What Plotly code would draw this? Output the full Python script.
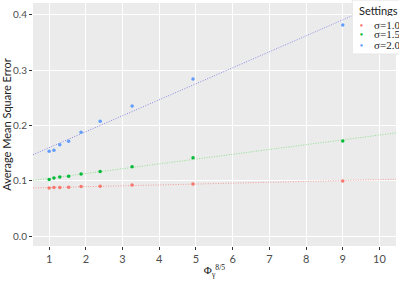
import numpy as np
import plotly.graph_objects as go

# ---- data ----
phi = [1.0, 1.13, 1.29, 1.53, 1.87, 2.39, 3.26, 4.92, 9.0]
series_names = ["σ=1.0", "σ=1.5", "σ=2.0"]
mse_s10 = [0.0870, 0.0877, 0.0877, 0.0884, 0.0895, 0.0903, 0.0926, 0.0944, 0.0998]
mse_s15 = [0.1022, 0.1052, 0.1070, 0.1083, 0.1125, 0.1166, 0.1256, 0.1419, 0.1720]
mse_s20 = [0.1534, 0.1552, 0.1653, 0.1715, 0.1877, 0.2076, 0.2352, 0.2840, 0.3820]
x_ticks = [1, 2, 3, 4, 5, 6, 7, 8, 9, 10]
y_ticks = [0.0, 0.1, 0.2, 0.3, 0.4]

point_colors = ["#F8766D", "#00BA38", "#619CFF"]
line_colors = ["#F2A09A", "#8FE08F", "#8A8AE8"]

x_range = [0.56, 10.45]
y_range = [-0.018, 0.4217]

fig = go.Figure()
for name, ys, pc, lc in zip(series_names, [mse_s10, mse_s15, mse_s20], point_colors, line_colors):
    slope, intercept = np.polyfit(phi, ys, 1)
    xl = np.array(x_range)
    fig.add_trace(go.Scatter(x=xl, y=slope * xl + intercept, mode="lines",
                             line=dict(color=lc, width=1, dash="1px,1.5px"),
                             showlegend=False, hoverinfo="skip"))
    fig.add_trace(go.Scatter(x=phi, y=ys, mode="markers", name=name,
                             marker=dict(color=pc, size=3.5), showlegend=False))

fig.update_layout(
    template="none",
    width=399, height=284,
    margin=dict(l=33, r=3, t=3, b=38),
    paper_bgcolor="white", plot_bgcolor="#EBEBEB",
    font=dict(family="Lato", color="#222222"),
    xaxis=dict(range=x_range, tickvals=x_ticks, showgrid=True, gridcolor="white", gridwidth=1,
               zeroline=False, showline=False, ticks="outside", ticklen=3, tickcolor="#333333",
               automargin=False,
               tickfont=dict(size=11, color="#4D4D4D"),
               title=dict(text="Φ<sub>γ</sub><sup>8/5</sup>", font=dict(size=11, color="#222222",
                          family="Liberation Serif"), standoff=2)),
    yaxis=dict(range=y_range, tickvals=y_ticks, tickformat=".1f", showgrid=True, gridcolor="white",
               gridwidth=1, zeroline=False, showline=False, ticks="outside", ticklen=3,
               tickcolor="#333333", automargin=False,
               tickfont=dict(size=10, color="#4D4D4D"),
               title=dict(text="Average Mean Square Error", font=dict(size=11, color="#222222"),
                          standoff=2)),
)

# ---- manual compact legend (ggplot style) ----
fig.add_shape(type="rect", xref="paper", yref="paper", x0=0.8796, x1=1.02, y0=0.79, y1=1.012,
              fillcolor="white", line=dict(color="#E6E6E6", width=1), layer="above")
fig.add_annotation(text="Settings", xref="paper", yref="paper", x=0.8926, y=0.971,
                   xanchor="left", yanchor="middle", showarrow=False, height=12,
                   font=dict(size=11, family="Lato", color="#222222"))
item_y = [0.9115, 0.8704, 0.8292]
for name, pc, yy in zip(series_names, point_colors, item_y):
    fig.add_annotation(text="●", xref="paper", yref="paper", x=0.9044, y=yy,
                       xanchor="center", yanchor="middle", showarrow=False, height=6,
                       font=dict(size=5, color=pc))
    fig.add_annotation(text=name, xref="paper", yref="paper", x=0.933, y=yy,
                       xanchor="left", yanchor="middle", showarrow=False, height=10,
                       font=dict(size=11, family="Liberation Serif", color="#222222"))

fig.write_html("out.html", config={"displayModeBar": False},
               post_script="document.body.style.margin='0';")
